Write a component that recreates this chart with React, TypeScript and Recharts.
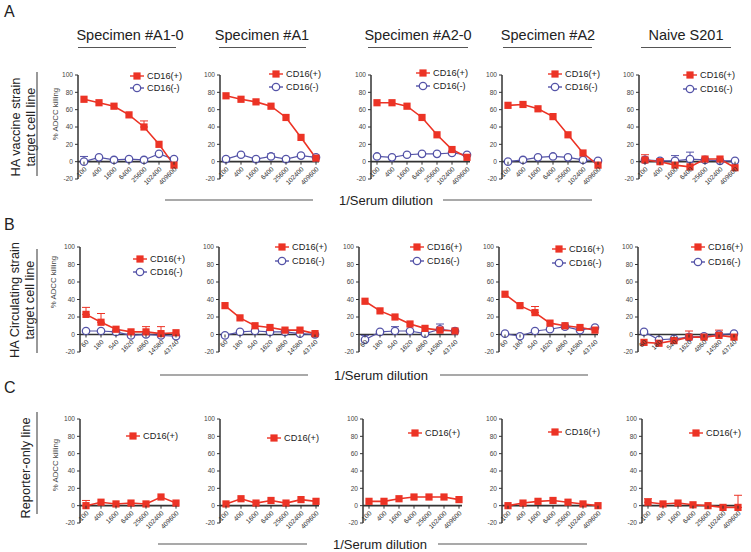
import React from "react";
import { LineChart, Line, XAxis, YAxis, ReferenceLine, ErrorBar } from "recharts";

const RED = "#ec3325";
const BLUE = "#5554a8";
const INK = "#333";
const FONT = "Arial, 'Liberation Sans', Helvetica, sans-serif";

// x categories
const dilutionsA = ["100", "400", "1600", "6400", "25600", "102400", "409600"];
const dilutionsB = ["60", "180", "540", "1620", "4860", "14580", "43740"];
const yTicks = [-20, 0, 20, 40, 60, 80, 100];

// Row A: HA vaccine strain target cell line
const a10Pos = [72, 68, 64, 54, 40, 20, -4];
const a10PosErr = [0, 0, 0, 0, 7, 0, 0];
const a10Neg = [0, 5, 2, 3, 2, 9, 3];
const a10NegErr = [6, 0, 0, 0, 0, 0, 0];

const a1Pos = [76, 72, 69, 64, 51, 28, 4];
const a1Neg = [3, 8, 3, 6, 3, 7, 5];
const a1NegErr = [0, 0, 0, 3, 0, 0, 0];

const a20Pos = [68, 68, 64, 51, 31, 14, 5];
const a20Neg = [6, 5, 8, 9, 9, 10, 8];

const a2Pos = [65, 66, 61, 52, 31, 10, -4];
const a2Neg = [0, 2, 5, 6, 5, 2, 1];

const naiveAPos = [2, 0, -4, -6, 3, 3, -7];
const naiveAPosErr = [6, 0, 0, 0, 0, 0, 0];
const naiveANeg = [2, 1, 1, 3, 2, 1, 1];
const naiveANegErr = [0, 0, 6, 8, 0, 0, 0];

// Row B: HA circulating strain target cell line
const b10Pos = [23, 14, 6, 3, 3, 1, 2];
const b10PosErr = [8, 10, 0, 0, 6, 8, 0];
const b10Neg = [4, 4, 3, -1, 0, -1, -2];

const b1Pos = [33, 19, 10, 8, 5, 5, 1];
const b1Neg = [-1, 3, 4, 3, 3, 1, 0];

const b20Pos = [38, 27, 20, 12, 7, 5, 4];
const b20Neg = [-6, 3, 4, 4, 1, 6, 4];
const b20NegErr = [5, 0, 5, 0, 0, 6, 0];

const b2Pos = [46, 33, 25, 13, 10, 8, 5];
const b2PosErr = [0, 0, 7, 0, 0, 0, 0];
const b2Neg = [1, -2, 4, 6, 9, 5, 8];

const naiveBPos = [-9, -10, -7, -3, -3, -1, -3];
const naiveBPosErr = [0, 0, 0, 7, 0, 6, 0];
const naiveBNeg = [3, -6, -5, -3, -2, 0, 1];

// Row C: reporter-only line
const c10Pos = [0, 4, 2, 3, 2, 10, 3];
const c10PosErr = [6, 0, 0, 0, 0, 0, 0];
const c1Pos = [2, 8, 3, 6, 3, 7, 5];
const c20Pos = [5, 5, 8, 10, 10, 10, 7];
const c2Pos = [0, 3, 5, 6, 4, 2, 0];
const naiveCPos = [4, 2, 3, 1, 0, -2, -2];
const naiveCPosErr = [4, 0, 0, 0, 0, 0, 14];

type Series = { labels: string[]; pos: number[]; posErr?: number[]; neg?: number[]; negErr?: number[] };

const rows: Series[][] = [
  [
    { labels: dilutionsA, pos: a10Pos, posErr: a10PosErr, neg: a10Neg, negErr: a10NegErr },
    { labels: dilutionsA, pos: a1Pos, neg: a1Neg, negErr: a1NegErr },
    { labels: dilutionsA, pos: a20Pos, neg: a20Neg },
    { labels: dilutionsA, pos: a2Pos, neg: a2Neg },
    { labels: dilutionsA, pos: naiveAPos, posErr: naiveAPosErr, neg: naiveANeg, negErr: naiveANegErr },
  ],
  [
    { labels: dilutionsB, pos: b10Pos, posErr: b10PosErr, neg: b10Neg },
    { labels: dilutionsB, pos: b1Pos, neg: b1Neg },
    { labels: dilutionsB, pos: b20Pos, neg: b20Neg, negErr: b20NegErr },
    { labels: dilutionsB, pos: b2Pos, posErr: b2PosErr, neg: b2Neg },
    { labels: dilutionsB, pos: naiveBPos, posErr: naiveBPosErr, neg: naiveBNeg },
  ],
  [
    { labels: dilutionsA, pos: c10Pos, posErr: c10PosErr },
    { labels: dilutionsA, pos: c1Pos },
    { labels: dilutionsA, pos: c20Pos },
    { labels: dilutionsA, pos: c2Pos },
    { labels: dilutionsA, pos: naiveCPos, posErr: naiveCPosErr },
  ],
];

const titles = ["Specimen #A1-0", "Specimen #A1", "Specimen #A2-0", "Specimen #A2", "Naive S201"];

// layout
const rowTops = [75, 247, 419];
const rowHeights = [104, 105, 104];
const axisXs = [
  [78, 220, 371, 502, 639],
  [80, 219, 359, 499, 638],
  [80, 220, 363, 502, 642],
];
const legendPos = [
  [[137, 76, 88], [276, 74, 87], [423, 73, 86], [555, 74, 87], [690, 75, 89]],
  [[140, 259, 272], [282, 247, 261], [417, 247, 261], [559, 249, 263], [698, 247, 262]],
  [[133, 436], [274, 438], [415, 433], [555, 432], [696, 433]],
];
const titleX = [130, 262, 418, 548, 686];
const titleLines = [[78, 176], [219, 306], [368, 468], [503, 592], [641, 731]];

const YW = 26;
const MT = 4;
const XH = 26;
const PW = 99;
const MR = 6;

const squareDot = (p: any) =>
  p.cx == null || p.cy == null ? (
    <g key={p.index} />
  ) : (
    <rect key={p.index} x={p.cx - 3.6} y={p.cy - 3.6} width={7.2} height={7.2} fill={RED} />
  );

const makeTick = (zeroUp: number) => (p: any) => {
  const { x, y, payload, index } = p;
  const y0 = y - zeroUp;
  const tx = x + 3;
  const ty = y0 + 8;
  return (
    <g key={index}>
      <line x1={x} x2={x} y1={y0} y2={y0 + 3} stroke={INK} strokeWidth={1} />
      <text
        x={tx}
        y={ty}
        transform={`rotate(-45 ${tx} ${ty})`}
        textAnchor="end"
        fontSize={6.6}
        fill={INK}
        fontFamily={FONT}
      >
        {payload.value}
      </text>
    </g>
  );
};

function Panel({ s, axisX, top, h }: { s: Series; axisX: number; top: number; h: number }) {
  const data = s.labels.map((d, i) => ({
    d,
    pos: s.pos[i],
    posErr: s.posErr && s.posErr[i] ? [0, s.posErr[i]] : null,
    neg: s.neg ? s.neg[i] : null,
    negErr: s.negErr && s.negErr[i] ? [0, s.negErr[i]] : null,
  }));
  const zeroUp = (h * 20) / 120;
  return (
    <div style={{ position: "absolute", left: axisX - YW, top: top - MT }}>
      <LineChart
        width={YW + PW + MR}
        height={MT + h + XH}
        data={data}
        margin={{ top: MT, right: MR, left: 0, bottom: 0 }}
      >
        <XAxis
          dataKey="d"
          type="category"
          padding={{ left: 6, right: 3 }}
          axisLine={false}
          tickLine={false}
          tickSize={0}
          tickMargin={0}
          interval={0}
          height={XH}
          tick={makeTick(zeroUp)}
        />
        <YAxis
          type="number"
          domain={[-20, 100]}
          allowDataOverflow
          ticks={yTicks}
          interval={0}
          width={YW}
          tickSize={3}
          tickMargin={2}
          tick={{ fontSize: 6.6, fill: "#444", fontFamily: FONT }}
          axisLine={{ stroke: INK, strokeWidth: 1.5 }}
          tickLine={{ stroke: INK }}
        />
        <ReferenceLine y={0} stroke={INK} strokeWidth={1.6} />
        {s.neg && (
          <Line
            dataKey="neg"
            stroke={BLUE}
            strokeWidth={1.2}
            dot={{ r: 3.7, fill: "#fff", stroke: BLUE, strokeWidth: 1.3 }}
            isAnimationActive={false}
          >
            <ErrorBar dataKey="negErr" direction="y" width={4} stroke={BLUE} strokeWidth={1} />
          </Line>
        )}
        <Line dataKey="pos" stroke={RED} strokeWidth={1.6} dot={squareDot} isAnimationActive={false}>
          <ErrorBar dataKey="posErr" direction="y" width={4} stroke={RED} strokeWidth={1} />
        </Line>
      </LineChart>
    </div>
  );
}

function LegendEntry({ x, y, neg }: { x: number; y: number; neg?: boolean }) {
  const c = neg ? BLUE : RED;
  return (
    <g>
      <line x1={x - 7} x2={x + 7} y1={y} y2={y} stroke={c} strokeWidth={1.4} />
      {neg ? (
        <circle cx={x} cy={y} r={3.7} fill="#fff" stroke={c} strokeWidth={1.3} />
      ) : (
        <rect x={x - 3.6} y={y - 3.6} width={7.2} height={7.2} fill={c} />
      )}
      <text x={x + 10} y={y + 3.3} fontSize={9.2} fill="#222" fontFamily={FONT}>
        {neg ? "CD16(-)" : "CD16(+)"}
      </text>
    </g>
  );
}

const rowLabelProps = { fontSize: 12.8, fill: "#222", fontFamily: FONT, textAnchor: "middle" as const };
const yLabelProps = { fontSize: 7.8, fill: "#444", fontFamily: FONT, textAnchor: "middle" as const };

function rotText(x: number, y: number, t: string, props: any) {
  return (
    <text x={x} y={y} transform={`rotate(-90 ${x} ${y})`} dominantBaseline="central" {...props}>
      {t}
    </text>
  );
}

function Serum({ y, cx, l, r }: { y: number; cx: number; l: number[]; r: number[] }) {
  return (
    <g>
      <line x1={l[0]} x2={l[1]} y1={y} y2={y} stroke="#555" strokeWidth={1.2} />
      <line x1={r[0]} x2={r[1]} y1={y} y2={y} stroke="#555" strokeWidth={1.2} />
      <text x={cx} y={y + 4.5} textAnchor="middle" fontSize={13} fill="#222" fontFamily={FONT}>
        1/Serum dilution
      </text>
    </g>
  );
}

export default function App() {
  return (
    <div
      style={{
        position: "absolute",
        left: 0,
        top: 0,
        width: 751,
        height: 552,
        background: "#fff",
        overflow: "hidden",
        fontFamily: FONT,
      }}
    >
      {rows.map((row, ri) =>
        row.map((s, pi) => (
          <Panel key={`${ri}-${pi}`} s={s} axisX={axisXs[ri][pi]} top={rowTops[ri]} h={rowHeights[ri]} />
        ))
      )}
      <svg
        width={751}
        height={552}
        style={{ position: "absolute", left: 0, top: 0, pointerEvents: "none" }}
      >
        <text x={4} y={17} fontSize={16} fill="#222" fontFamily={FONT}>A</text>
        <text x={4} y={230} fontSize={16} fill="#222" fontFamily={FONT}>B</text>
        <text x={4} y={393} fontSize={16} fill="#222" fontFamily={FONT}>C</text>

        {titles.map((t, i) => (
          <g key={t}>
            <text x={titleX[i]} y={39.5} textAnchor="middle" fontSize={14.5} fill="#222" fontFamily={FONT}>
              {t}
            </text>
            <line x1={titleLines[i][0]} x2={titleLines[i][1]} y1={47.5} y2={47.5} stroke="#555" strokeWidth={1.2} />
          </g>
        ))}

        {rotText(15, 127, "HA vaccine strain", rowLabelProps)}
        {rotText(30, 127, "target cell line", rowLabelProps)}
        <line x1={37} x2={37} y1={72} y2={176} stroke="#555" strokeWidth={1.2} />

        {rotText(14, 300, "HA Circulating strain", rowLabelProps)}
        {rotText(29, 300, "target cell line", rowLabelProps)}
        <line x1={37} x2={37} y1={249} y2={353} stroke="#555" strokeWidth={1.2} />

        {rotText(25, 468, "Reporter-only line", rowLabelProps)}
        <line x1={37} x2={37} y1={412} y2={514} stroke="#555" strokeWidth={1.2} />

        {rotText(55, 114, "% ADCC killing", yLabelProps)}
        {rotText(53, 282, "% ADCC killing", yLabelProps)}
        {rotText(55, 465, "% ADCC killing", yLabelProps)}

        {legendPos.map((row, ri) =>
          row.map((p, pi) => (
            <g key={`lg-${ri}-${pi}`}>
              <LegendEntry x={p[0]} y={p[1]} />
              {p.length > 2 && <LegendEntry x={p[0]} y={p[2]} neg />}
            </g>
          ))
        )}

        <Serum y={200} cx={386} l={[165, 313]} r={[443, 592]} />
        <Serum y={375} cx={381} l={[160, 308]} r={[440, 588]} />
        <Serum y={544} cx={380} l={[158, 307]} r={[438, 587]} />
      </svg>
    </div>
  );
}
